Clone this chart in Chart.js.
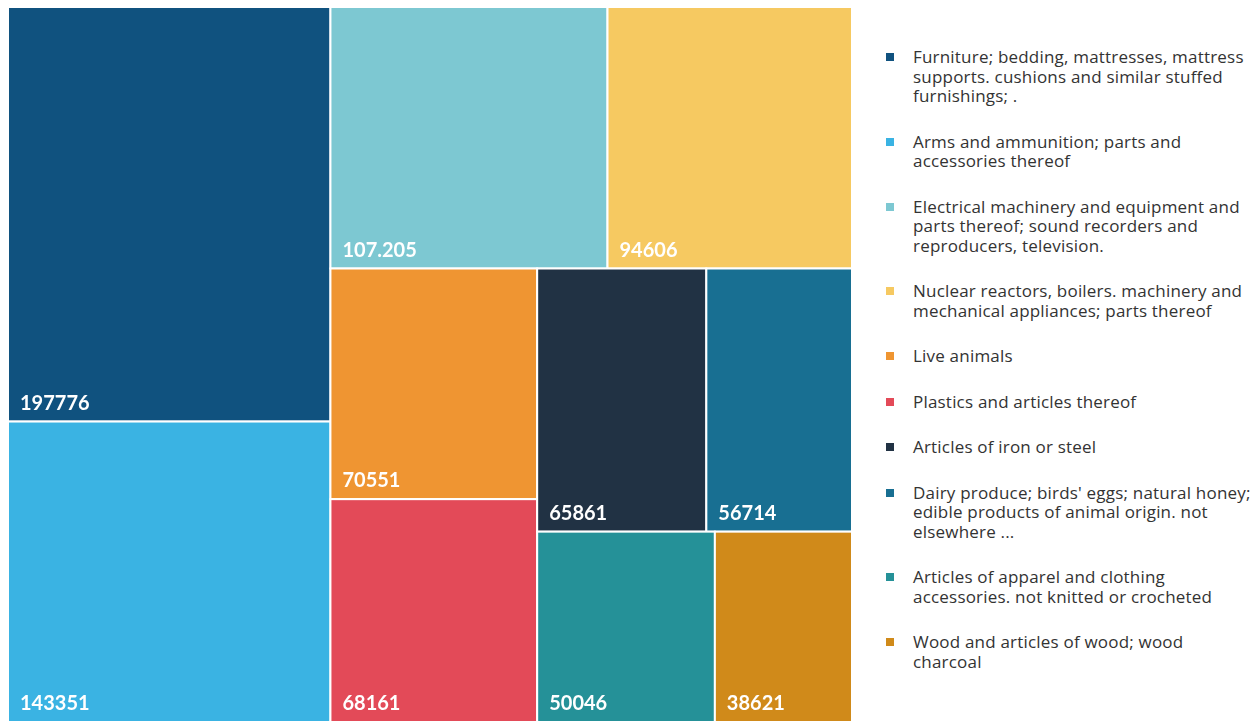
<!DOCTYPE html>
<html>
<head>
<meta charset="utf-8">
<script src="https://cdn.jsdelivr.net/npm/chart.js@4.4.1/dist/chart.umd.min.js"></script>
<style>
  body { margin: 0; background: #fff; font-family: 'Open Sans', sans-serif; }
  #wrap { position: absolute; left: 0; top: 0; width: 860px; height: 724px; }
  #legenda { position: absolute; left: 886px; top: 47px; width: 372px; }
  .item { position: relative; padding-left: 27px; margin-bottom: 26px; font-size: 17px; letter-spacing: 0.2px; line-height: 19.5px; color: #333; white-space: nowrap; }
  .item span.box { position: absolute; left: 0; top: 6px; width: 8px; height: 8px; }
</style>
</head>
<body>
<div id="wrap"><canvas id="grafico"></canvas></div>
<div id="legenda"></div>
<script>
// categorias (linhas da legenda), valores e cores
const categorias = [
  ['Furniture; bedding, mattresses, mattress', 'supports. cushions and similar stuffed', 'furnishings; .'],
  ['Arms and ammunition; parts and', 'accessories thereof'],
  ['Electrical machinery and equipment and', 'parts thereof; sound recorders and', 'reproducers, television.'],
  ['Nuclear reactors, boilers. machinery and', 'mechanical appliances; parts thereof'],
  ['Live animals'],
  ['Plastics and articles thereof'],
  ['Articles of iron or steel'],
  ["Dairy produce; birds' eggs; natural honey;", 'edible products of animal origin. not', 'elsewhere ...'],
  ['Articles of apparel and clothing', 'accessories. not knitted or crocheted'],
  ['Wood and articles of wood; wood', 'charcoal']
];
const valores = [197776, 143351, 107205, 94606, 70551, 68161, 65861, 56714, 50046, 38621];
const rotulos = ['197776', '143351', '107.205', '94606', '70551', '68161', '65861', '56714', '50046', '38621'];
const cores = ['#10527f', '#3ab3e3', '#7dc8d2', '#f6c961', '#ef9532', '#e34a58', '#213244', '#186f92', '#259198', '#d08a1a'];

// pior proporção de uma linha do squarify
function pior(linha, lado) {
  const s = linha.reduce((a, b) => a + b, 0);
  const max = Math.max(...linha), min = Math.min(...linha);
  return Math.max(lado * lado * max / (s * s), (s * s) / (lado * lado * min));
}

// layout squarified em um retângulo w x h, devolve retângulos normalizados 0..1
function squarify(vals, w, h) {
  const total = vals.reduce((a, b) => a + b, 0);
  const areas = vals.map(v => v * w * h / total);
  const W = w, H = h;
  let x = 0, y = 0;
  const rects = [];
  let i = 0;
  while (i < areas.length) {
    const lado = Math.min(w, h);
    const linha = [areas[i]];
    let j = i + 1;
    while (j < areas.length && pior(linha.concat(areas[j]), lado) <= pior(linha, lado)) {
      linha.push(areas[j]);
      j++;
    }
    const s = linha.reduce((a, b) => a + b, 0);
    if (w >= h) {
      const larg = s / h;
      let yy = y;
      linha.forEach(a => {
        const alt = a / larg;
        rects.push({ x0: x / W, x1: (x + larg) / W, y0: yy / H, y1: (yy + alt) / H });
        yy += alt;
      });
      x += larg; w -= larg;
    } else {
      const alt = s / w;
      let xx = x;
      linha.forEach(a => {
        const larg = a / alt;
        rects.push({ x0: xx / W, x1: (xx + larg) / W, y0: y / H, y1: (y + alt) / H });
        xx += larg;
      });
      y += alt; h -= alt;
    }
    i = j;
  }
  return rects;
}

const pluginTreemap = {
  id: 'treemap',
  beforeDatasetsDraw(chart) {
    const { ctx, chartArea, scales } = chart;
    const rects = squarify(valores, chartArea.width, chartArea.height);
    ctx.save();
    rects.forEach((r, k) => {
      const x0 = scales.x.getPixelForValue(r.x0);
      const x1 = scales.x.getPixelForValue(r.x1);
      const y0 = scales.y.getPixelForValue(r.y0);
      const y1 = scales.y.getPixelForValue(r.y1);
      ctx.fillStyle = cores[k];
      ctx.fillRect(x0, y0, x1 - x0, y1 - y0);
      ctx.strokeStyle = '#ffffff';
      ctx.lineWidth = 2;
      ctx.strokeRect(x0, y0, x1 - x0, y1 - y0);
      ctx.fillStyle = '#ffffff';
      ctx.font = 'bold 20px Lato';
      ctx.textBaseline = 'alphabetic';
      ctx.fillText(rotulos[k], x0 + 12, y1 - 12);
    });
    ctx.restore();
  }
};

new Chart(document.getElementById('grafico'), {
  type: 'scatter',
  data: { datasets: [{ data: [] }] },
  options: {
    responsive: true,
    maintainAspectRatio: false,
    animation: false,
    layout: { padding: { left: 8, top: 7, right: 8, bottom: 2 } },
    scales: {
      x: { display: false, min: 0, max: 1 },
      y: { display: false, min: 0, max: 1, reverse: true }
    },
    plugins: { legend: { display: false }, tooltip: { enabled: false } }
  },
  plugins: [pluginTreemap]
});

// legenda em HTML
const leg = document.getElementById('legenda');
categorias.forEach((linhas, k) => {
  const d = document.createElement('div');
  d.className = 'item';
  d.innerHTML = '<span class="box" style="background:' + cores[k] + '"></span>' + linhas.join('<br>');
  leg.appendChild(d);
});
</script>
</body>
</html>
